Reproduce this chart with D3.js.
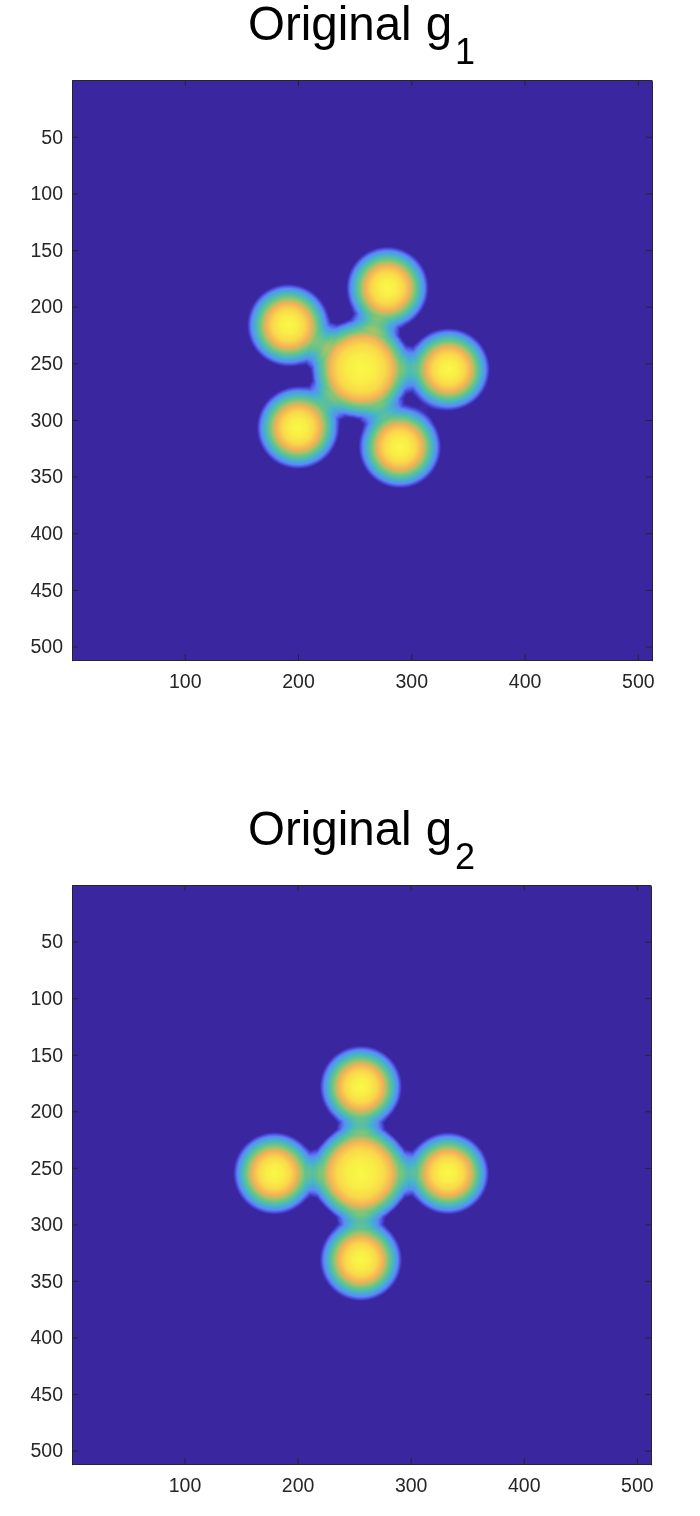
<!DOCTYPE html>
<html lang="en">
  <head>
    <meta charset="utf-8">
    <title>Original g1 and g2</title>
    <script src="https://d3js.org/d3.v7.min.js" charset="utf-8"></script>
    <style>
      body { margin: 0; background: white; }
      #chart { position: relative; width: 700px; height: 1516px; }
      canvas, svg { position: absolute; left: 0; top: 0; }
    </style>
  </head>
  <body>
    <div id="chart"></div>
    <script>
      var width = 700,
      height = 1516;

      // tick labels, image is 512 x 512
      var xTicks = [100, 200, 300, 400, 500];
      var yTicks = [50, 100, 150, 200, 250, 300, 350, 400, 450, 500];

      // blob centres, in image pixels (centre blob first)
      var g1X = [256, 279, 191.5, 333, 200, 290];
      var g1Y = [255.5, 184, 217, 256, 307.5, 324.5];
      var g2X = [256, 256, 179.5, 333, 256];
      var g2Y = [255.5, 179, 255.5, 255.5, 332];

      // radial profile of a blob: distance from centre -> value
      // the low end carries on as a faint tail, so neighbours add up into bridges
      var smallR = [0, 8, 14, 19.5, 25.5, 29, 32.5, 34.5, 36.5, 38, 43, 50, 60];
      var bigR = [0, 13, 21, 27.5, 33, 37, 40, 42, 43.5, 45, 49, 55, 65];
      var blobV = [1.3, 1.25, 1.17, 1.05, 0.85, 0.7, 0.52, 0.4, 0.3, 0.24, 0.07, 0.015, 0];
      var floorV = 0.3;

      // colormap stops
      var cmapPos = [0, 0.05, 0.12, 0.22, 0.4, 0.55, 0.65, 0.75, 0.87, 1];
      var cmapCol = ["#3a27a0", "#4238c4", "#4f5ce8", "#5a8cf2", "#45b4cc", "#66c488", "#a8c268", "#f3b058", "#f9d84a", "#f9f945"];

      var color = d3.scaleLinear().domain(cmapPos).range(cmapCol).clamp(true);
      var small = d3.scaleLinear().domain(smallR).range(blobV).clamp(true);
      var big = d3.scaleLinear().domain(bigR).range(blobV).clamp(true);

      var canvas = d3.select("#chart").append("canvas")
        .attr("width", width)
        .attr("height", height);
      var ctx = canvas.node().getContext("2d");

      var svg = d3.select("#chart").append("svg")
        .attr("width", width)
        .attr("height", height);

      function drawPanel(left, right, top, bottom, bx, by, sub, titleBase) {
        var x = d3.scaleLinear().domain([0.5, 512.5]).range([left, right]);
        var y = d3.scaleLinear().domain([0.5, 512.5]).range([top, bottom]);

        // the image itself, one canvas pixel at a time
        var w = right - left, h = bottom - top;
        var img = ctx.createImageData(w, h);
        for (var j = 0; j < h; j++) {
          var dy = y.invert(top + j + 0.5);
          for (var i = 0; i < w; i++) {
            var dx = x.invert(left + i + 0.5);
            var v = -floorV;
            bx.forEach(function(cx, k) {
              var r = Math.hypot(dx - cx, dy - by[k]);
              v += k == 0 ? big(r) : small(r);
            });
            var c = d3.rgb(color(v));
            var p = (j * w + i) * 4;
            img.data[p] = c.r;
            img.data[p + 1] = c.g;
            img.data[p + 2] = c.b;
            img.data[p + 3] = 255;
          }
        }
        ctx.putImageData(img, left, top);

        var tick = 5.8;
        var g = svg.append("g");
        g.append("g").attr("class", "ax")
          .attr("transform", "translate(0," + bottom + ")")
          .call(d3.axisBottom(x).tickValues(xTicks).tickSize(-tick).tickSizeOuter(0).tickPadding(14));
        g.append("g").attr("class", "ax")
          .attr("transform", "translate(" + left + ",0.7)")
          .call(d3.axisLeft(y).tickValues(yTicks).tickSize(-tick).tickSizeOuter(0).tickPadding(9));
        g.append("g").attr("class", "ax")
          .attr("transform", "translate(0," + top + ")")
          .call(d3.axisTop(x).tickValues(xTicks).tickSize(-tick).tickSizeOuter(0).tickFormat(""));
        g.append("g").attr("class", "ax")
          .attr("transform", "translate(" + right + ",0.7)")
          .call(d3.axisRight(y).tickValues(yTicks).tickSize(-tick).tickSizeOuter(0).tickFormat(""));

        g.selectAll(".ax path, .ax line").style("stroke", "#262626").style("stroke-width", 1);
        g.selectAll(".ax text")
          .style("font-family", "'Liberation Sans', sans-serif")
          .style("font-size", "19.5px")
          .style("fill", "#262626");

        var title = g.append("text")
          .attr("x", 248)
          .attr("y", titleBase)
          .style("font-family", "'Liberation Sans', sans-serif")
          .style("font-size", "47.5px")
          .style("fill", "black")
          .text("Original");
        title.append("tspan")
          .attr("dx", 14)
          .text("g");
        title.append("tspan")
          .attr("dx", 3)
          .attr("dy", 24)
          .style("font-size", "36px")
          .text(sub);
      }

      drawPanel(72, 652, 80, 660, g1X, g1Y, "1", 40);
      drawPanel(72, 651, 885, 1464, g2X, g2Y, "2", 845);
    </script>
  </body>
</html>
